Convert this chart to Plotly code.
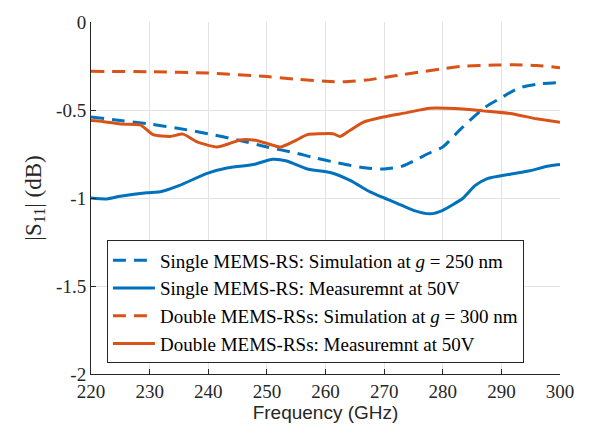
import plotly.graph_objects as go

# Single MEMS-RS simulation (g = 250 nm)
f_ss = [220, 225, 230, 235, 240, 245, 250, 255, 258, 262, 266, 270, 273, 275, 278, 280, 283, 287, 290, 293, 296, 300]
s_ss = [-0.54, -0.56, -0.58, -0.605, -0.635, -0.67, -0.71, -0.745, -0.77, -0.80, -0.825, -0.835, -0.82, -0.79, -0.74, -0.71, -0.61, -0.49, -0.43, -0.375, -0.354, -0.343]

# Single MEMS-RS measurement at 50V
f_sm = [220, 222.7, 225, 229.5, 231.8, 235, 239.8, 243.2, 247.7, 251, 253.4, 256.9, 260.8, 264.2, 267.6, 270, 272.2, 275, 277.8, 280, 283.5, 285.5, 287.6, 291.5, 294.9, 297.8, 300]
s_sm = [-1.0, -1.005, -0.99, -0.97, -0.965, -0.93, -0.86, -0.83, -0.81, -0.78, -0.79, -0.835, -0.855, -0.90, -0.965, -1.0, -1.03, -1.07, -1.09, -1.07, -1.0, -0.93, -0.89, -0.865, -0.845, -0.82, -0.81]

# Double MEMS-RSs simulation (g = 300 nm)
f_ds = [220, 230, 240, 250, 255, 260, 263, 267, 270, 273, 277, 280, 284, 289, 292, 296, 300]
s_ds = [-0.28, -0.283, -0.29, -0.31, -0.325, -0.337, -0.34, -0.33, -0.315, -0.30, -0.28, -0.265, -0.25, -0.245, -0.243, -0.247, -0.26]

# Double MEMS-RSs measurement at 50V
f_dm = [220, 222, 225, 228.4, 230.6, 233.5, 235.7, 238, 241.5, 243.7, 245.4, 247.7, 250, 252.3, 254.5, 256.9, 259, 261.3, 262.5, 264.2, 266.4, 269.8, 273.9, 277.8, 283.5, 286.9, 291.5, 296, 300]
s_dm = [-0.56, -0.565, -0.58, -0.585, -0.64, -0.65, -0.637, -0.68, -0.71, -0.69, -0.67, -0.67, -0.69, -0.71, -0.68, -0.64, -0.635, -0.635, -0.65, -0.615, -0.57, -0.54, -0.515, -0.49, -0.495, -0.505, -0.52, -0.55, -0.57]

x_ticks = [220, 230, 240, 250, 260, 270, 280, 290, 300]
y_ticks = [0, -0.5, -1, -1.5, -2]
y_tick_text = ["0", "-0.5", "-1", "-1.5", "-2"]

blue = "#0072BD"
orange = "#D95319"
dash = "13px,8px"

fig = go.Figure()
fig.add_trace(go.Scatter(x=f_ss, y=s_ss, mode="lines", line=dict(color=blue, width=3, dash=dash, shape="spline", smoothing=0.8),
                         name="Single MEMS-RS: Simulation at <i>g</i> = 250 nm"))
fig.add_trace(go.Scatter(x=f_sm, y=s_sm, mode="lines", line=dict(color=blue, width=3, shape="spline", smoothing=0.6),
                         name="Single MEMS-RS: Measuremnt at 50V"))
fig.add_trace(go.Scatter(x=f_ds, y=s_ds, mode="lines", line=dict(color=orange, width=3, dash=dash, shape="spline", smoothing=0.8),
                         name="Double MEMS-RSs: Simulation at <i>g</i> = 300 nm"))
fig.add_trace(go.Scatter(x=f_dm, y=s_dm, mode="lines", line=dict(color=orange, width=3, shape="spline", smoothing=0.6),
                         name="Double MEMS-RSs: Measuremnt at 50V"))

fig.update_layout(
    width=590, height=436,
    margin=dict(l=91, r=30, t=12, b=62),
    font=dict(family="Liberation Serif", size=19, color="#262626"),
    paper_bgcolor="white", plot_bgcolor="white",
    showlegend=True,
    legend=dict(x=0.034, y=0.03, xanchor="left", yanchor="bottom",
                bgcolor="white", bordercolor="#262626", borderwidth=1,
                font=dict(family="Liberation Serif", size=19, color="#000000"),
                itemwidth=42, tracegroupgap=0),
)
fig.update_xaxes(range=[220, 300], tickvals=x_ticks, showgrid=True, gridcolor="#e3e3e3",
                 showline=True, linecolor="#262626", ticks="inside", ticklen=5, tickcolor="#262626",
                 zeroline=False,
                 title=dict(text="Frequency (GHz)", standoff=4,
                            font=dict(family="Liberation Sans", size=19, color="#262626")))
fig.update_yaxes(range=[-2, 0], tickvals=y_ticks, ticktext=y_tick_text, showgrid=True, gridcolor="#e3e3e3",
                 showline=True, linecolor="#262626", ticks="inside", ticklen=5, tickcolor="#262626",
                 zeroline=False,
                 title=dict(text="|S<sub>11</sub>| (dB)", standoff=8))

fig.write_html("out.html")
